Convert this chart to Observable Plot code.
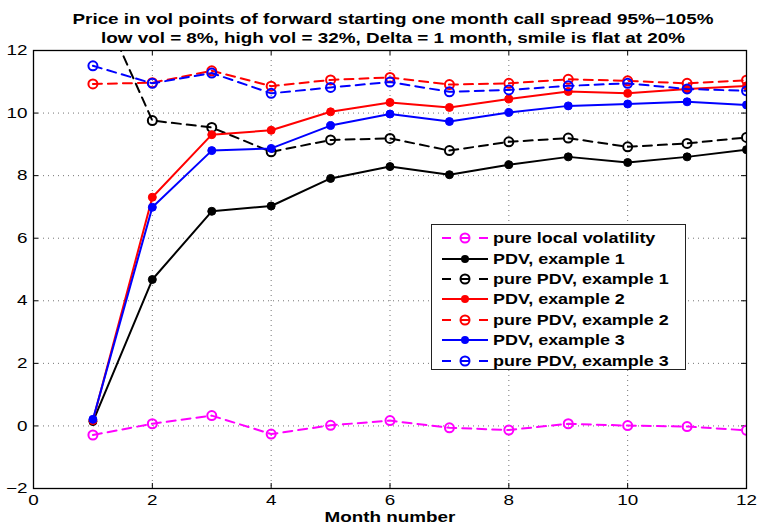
<!DOCTYPE html>
<html>
<head>
<meta charset="utf-8">
<script src="https://cdn.jsdelivr.net/npm/d3@7"></script>
<script src="https://cdn.jsdelivr.net/npm/@observablehq/plot@0.6"></script>
<style>
  html, body { margin: 0; padding: 0; background: #fff; }
  #wrap { position: relative; width: 757px; height: 525px; font-family: "Liberation Sans", Arial, sans-serif; }
  #legend { position: absolute; left: 431px; top: 224px; width: 255px; height: 146px; border: 1.5px solid #222; background: #fff; box-sizing: border-box; padding-top: 3px; }
  .row { display: flex; align-items: center; height: 20.4px; }
  .row svg { margin-left: 10px; margin-right: 5px; flex: none; }
  .row span { display: inline-block; font-weight: bold; font-size: 14px; color: #000; white-space: nowrap; transform: scaleX(1.28); transform-origin: 0 50%; }
</style>
</head>
<body>
<div id="wrap"></div>
<script>
const titleLines = [
  "Price in vol points of forward starting one month call spread 95%\u2013105%",
  "low vol = 8%, high vol = 32%, Delta = 1 month, smile is flat at 20%"
];
const xLabel = "Month number";
const xTicks = [0, 2, 4, 6, 8, 10, 12];
const yTicks = [-2, 0, 2, 4, 6, 8, 10, 12];
const months = [1, 2, 3, 4, 5, 6, 7, 8, 9, 10, 11, 12];

const pureLocalVol = [-0.29, 0.07, 0.33, -0.26, 0.02, 0.17, -0.06, -0.13, 0.07, 0.01, -0.02, -0.14];
const pdv1      = [0.14, 4.68, 6.86, 7.03, 7.91, 8.29, 8.03, 8.35, 8.60, 8.42, 8.60, 8.83];
const purePdv1  = [14.0, 9.76, 9.54, 8.76, 9.14, 9.19, 8.80, 9.08, 9.20, 8.92, 9.03, 9.22];
const pdv2      = [0.17, 7.31, 9.31, 9.45, 10.04, 10.34, 10.18, 10.45, 10.69, 10.63, 10.77, 10.87];
const purePdv2  = [10.93, 10.97, 11.35, 10.86, 11.06, 11.14, 10.91, 10.95, 11.08, 11.03, 10.95, 11.05];
const pdv3      = [0.21, 6.99, 8.80, 8.87, 9.60, 9.97, 9.73, 10.02, 10.23, 10.29, 10.36, 10.26];
const purePdv3  = [11.51, 10.95, 11.28, 10.63, 10.82, 10.99, 10.68, 10.74, 10.87, 10.95, 10.77, 10.71];

const seriesNames = ["pure local volatility", "PDV, example 1", "pure PDV, example 1", "PDV, example 2", "pure PDV, example 2", "PDV, example 3", "pure PDV, example 3"];
const seriesValues = [pureLocalVol, pdv1, purePdv1, pdv2, purePdv2, pdv3, purePdv3];
const seriesColors = ["#ff00ff", "#000000", "#000000", "#ff0000", "#ff0000", "#0000ff", "#0000ff"];
const seriesDashed = [true, false, true, false, true, false, true];

const W = 757, H = 525;
const mL = 33, mR = 11, mT = 50, mB = 37;
const frameH = H - mT - mB;
const frameW = W - mL - mR;
const DASH = "9,6";
const STRETCH = 1.3;

const marks = [];
// dotted grid
marks.push(Plot.gridX(xTicks.slice(1, -1), {stroke: "#000", strokeOpacity: 0.55, strokeDasharray: "1,4", strokeWidth: 1}));
marks.push(Plot.gridY(yTicks.slice(1, -1), {stroke: "#000", strokeOpacity: 0.55, strokeDasharray: "1,4", strokeWidth: 1}));
// inward ticks
const tk = 5;
marks.push(Plot.tickX(xTicks, {x: d => d, insetTop: frameH - tk, stroke: "#000"}));
marks.push(Plot.tickX(xTicks, {x: d => d, insetBottom: frameH - tk, stroke: "#000"}));
marks.push(Plot.tickY(yTicks, {y: d => d, insetRight: frameW - tk, stroke: "#000"}));
marks.push(Plot.tickY(yTicks, {y: d => d, insetLeft: frameW - tk, stroke: "#000"}));

seriesValues.forEach((vals, i) => {
  const data = months.map((m, j) => ({m, v: vals[j]}));
  marks.push(Plot.line(data, {x: "m", y: "v", stroke: seriesColors[i], strokeWidth: 2, strokeDasharray: seriesDashed[i] ? DASH : null, clip: true}));
  if (seriesDashed[i]) {
    marks.push(Plot.dot(data, {x: "m", y: "v", r: 4.5, stroke: seriesColors[i], strokeWidth: 2, fill: "none", clip: true}));
  } else {
    marks.push(Plot.dot(data, {x: "m", y: "v", r: 4, fill: seriesColors[i], stroke: seriesColors[i], strokeWidth: 1, clip: true}));
  }
});

marks.push(Plot.frame({stroke: "#000", strokeWidth: 1.3}));
marks.push(Plot.axisX(xTicks, {tickSize: 0, tickPadding: 6, fontSize: 14.5, label: null, fill: "#000"}));
marks.push(Plot.axisY(yTicks, {tickSize: 0, tickPadding: 6, fontSize: 14.5, label: null, fill: "#000"}));
marks.push(Plot.text([xLabel], {text: d => d, frameAnchor: "bottom", dy: 33, fontSize: 14.5, fontWeight: "bold", fill: "#000"}));
marks.push(Plot.text([titleLines[0]], {text: d => d, frameAnchor: "top", dx: 3, dy: -37, fontSize: 14.5, fontWeight: "bold", fill: "#000"}));
marks.push(Plot.text([titleLines[1]], {text: d => d, frameAnchor: "top", dx: 3, dy: -18, fontSize: 14.5, fontWeight: "bold", fill: "#000"}));

const chart = Plot.plot({
  width: W, height: H,
  marginLeft: mL, marginRight: mR, marginTop: mT, marginBottom: mB,
  style: {fontFamily: "Liberation Sans, Arial, sans-serif", background: "#fff", color: "#000"},
  x: {domain: [0, 12]},
  y: {domain: [-2, 12]},
  marks
});
const wrap = document.getElementById("wrap");
wrap.appendChild(chart);

// widen text horizontally (reference uses a wide Helvetica rendering) without moving anchors
chart.querySelectorAll("text").forEach(t => {
  const targets = t.querySelectorAll("tspan").length ? t.querySelectorAll("tspan") : [t];
  targets.forEach(el => {
    const len = el.getComputedTextLength();
    if (len > 0) {
      el.setAttribute("textLength", (len * STRETCH).toFixed(2));
      el.setAttribute("lengthAdjust", "spacingAndGlyphs");
    }
  });
});

// legend
const legend = document.createElement("div");
legend.id = "legend";
seriesNames.forEach((name, i) => {
  const row = document.createElement("div");
  row.className = "row";
  const svg = d3.create("svg").attr("width", 46).attr("height", 14);
  if (seriesDashed[i]) {
    svg.append("line").attr("x1", 0).attr("x2", 9).attr("y1", 7).attr("y2", 7).attr("stroke", seriesColors[i]).attr("stroke-width", 2);
    svg.append("line").attr("x1", 37).attr("x2", 46).attr("y1", 7).attr("y2", 7).attr("stroke", seriesColors[i]).attr("stroke-width", 2);
    svg.append("line").attr("x1", 18).attr("x2", 28).attr("y1", 7).attr("y2", 7).attr("stroke", seriesColors[i]).attr("stroke-width", 2);
    svg.append("circle").attr("cx", 23).attr("cy", 7).attr("r", 4.5).attr("fill", "none").attr("stroke", seriesColors[i]).attr("stroke-width", 2);
  } else {
    svg.append("line").attr("x1", 0).attr("x2", 46).attr("y1", 7).attr("y2", 7).attr("stroke", seriesColors[i]).attr("stroke-width", 2);
    svg.append("circle").attr("cx", 23).attr("cy", 7).attr("r", 4).attr("fill", seriesColors[i]);
  }
  row.appendChild(svg.node());
  const span = document.createElement("span");
  span.textContent = name;
  row.appendChild(span);
  legend.appendChild(row);
});
wrap.appendChild(legend);
</script>
</body>
</html>
